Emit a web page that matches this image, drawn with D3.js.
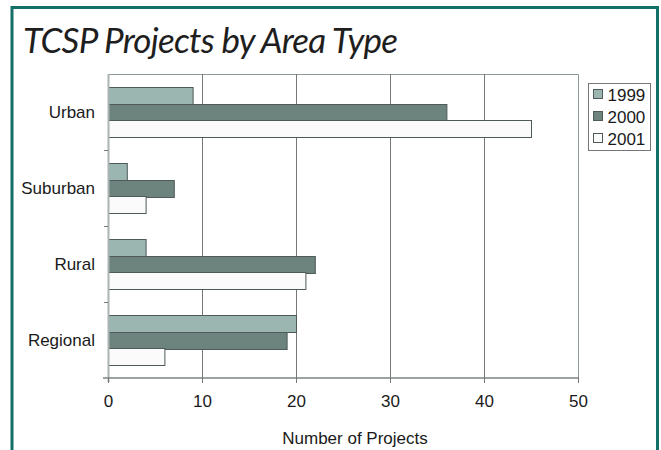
<!DOCTYPE html>
<html lang="en">
<head>
<meta charset="utf-8">
<script src="https://d3js.org/d3.v7.min.js"></script>
<style>
  body { margin: 0; background: #fff; }
  svg { display: block; }
</style>
</head>
<body>
<svg id="chart" width="661" height="450"></svg>
<script>
  // data
  const categories = ["Urban", "Suburban", "Rural", "Regional"];
  const years = ["1999", "2000", "2001"];
  const v1999 = [9, 2, 4, 20];
  const v2000 = [36, 7, 22, 19];
  const v2001 = [45, 4, 21, 6];
  const xTicks = [0, 10, 20, 30, 40, 50];

  const series = [v1999, v2000, v2001];
  const colors = ["#9bb5b0", "#6d837e", "#fbfbfb"];

  const svg = d3.select("#chart");
  const font = "'Liberation Sans', Arial, sans-serif";

  // teal frame (open at the bottom)
  svg.append("path")
    .attr("d", "M12,450 V7.5 H657.5 V450")
    .attr("fill", "none")
    .attr("stroke", "#127068")
    .attr("stroke-width", 3);

  svg.append("text")
    .attr("x", 23).attr("y", 53)
    .attr("font-family", "Lato, 'Open Sans', sans-serif")
    .attr("font-style", "italic")
    .attr("font-weight", 400)
    .attr("font-size", 35)
    .attr("fill", "#1e1e1e")
    .attr("textLength", 375)
    .text("TCSP Projects by Area Type");

  const pLeft = 108, pRight = 578, pTop = 74, pBottom = 378;

  const x = d3.scaleLinear().domain([0, 50]).range([pLeft, pRight]);
  const y = d3.scaleBand().domain(categories).range([pTop, pBottom]);
  const yInner = d3.scaleBand().domain(years).range([0, y.bandwidth()]).paddingOuter(0.74);

  // plot frame top/right
  svg.append("path")
    .attr("d", `M${pLeft},${pTop}.5 H${pRight}.5 V${pBottom}`)
    .attr("fill", "none").attr("stroke", "#8e9a98").attr("stroke-width", 1);

  // grid lines
  svg.append("g").selectAll("line")
    .data(xTicks.slice(1, -1))
    .join("line")
    .attr("x1", d => Math.round(x(d)) + 0.5).attr("x2", d => Math.round(x(d)) + 0.5)
    .attr("y1", pTop).attr("y2", pBottom)
    .attr("stroke", "#777").attr("stroke-width", 1);

  // bars
  categories.forEach((c, i) => {
    series.forEach((s, j) => {
      svg.append("rect")
        .attr("x", x(0) + 0.5)
        .attr("y", Math.round(y(c) + yInner(years[j])) + 0.5)
        .attr("width", x(s[i]) - x(0))
        .attr("height", Math.round(yInner.bandwidth()))
        .attr("fill", colors[j])
        .attr("stroke", "#4e5a58")
        .attr("stroke-width", 1);
    });
  });

  // y axis
  const yAxis = svg.append("g").attr("transform", `translate(${pLeft},0)`);
  yAxis.append("line")
    .attr("x1", 0.5).attr("x2", 0.5).attr("y1", pTop).attr("y2", pBottom + 4)
    .attr("stroke", "#aab4b2").attr("stroke-width", 2);
  yAxis.selectAll(".tk")
    .data(categories.slice(1))
    .join("line")
    .attr("x1", -4).attr("x2", 0)
    .attr("y1", d => Math.round(y(d)) + 0.5).attr("y2", d => Math.round(y(d)) + 0.5)
    .attr("stroke", "#777");
  yAxis.selectAll("text")
    .data(categories)
    .join("text")
    .attr("x", -13)
    .attr("y", d => y(d) + y.bandwidth() / 2 + 6)
    .attr("text-anchor", "end")
    .attr("font-family", font).attr("font-size", 17).attr("fill", "#1a1a1a")
    .text(d => d);

  // x axis
  const xAxis = svg.append("g").attr("transform", `translate(0,${pBottom})`)
    .call(d3.axisBottom(x).tickValues(xTicks).tickSize(5).tickSizeOuter(0).tickPadding(12));
  xAxis.select(".domain").attr("stroke", "#9aa5a3").attr("stroke-width", 2)
    .attr("d", `M${pLeft - 5},0H${pRight}`);
  xAxis.selectAll(".tick line").attr("stroke", "#777").attr("y1", -1);
  xAxis.selectAll(".tick text")
    .attr("font-family", font).attr("font-size", 17).attr("fill", "#1a1a1a");

  svg.append("text")
    .attr("x", 355).attr("y", 444)
    .attr("text-anchor", "middle")
    .attr("font-family", font).attr("font-size", 17).attr("fill", "#1a1a1a")
    .text("Number of Projects");

  // legend
  const lg = svg.append("g").attr("transform", "translate(588.5,83.5)");
  lg.append("rect").attr("width", 62).attr("height", 67)
    .attr("fill", "#fff").attr("stroke", "#777");
  years.forEach((yr, j) => {
    lg.append("rect")
      .attr("x", 5).attr("y", 6 + j * 22)
      .attr("width", 9).attr("height", 9)
      .attr("fill", colors[j]).attr("stroke", "#4e5a58");
    lg.append("text")
      .attr("x", 19).attr("y", 17 + j * 22)
      .attr("font-family", font).attr("font-size", 17).attr("fill", "#1a1a1a")
      .text(yr);
  });
</script>
</body>
</html>
